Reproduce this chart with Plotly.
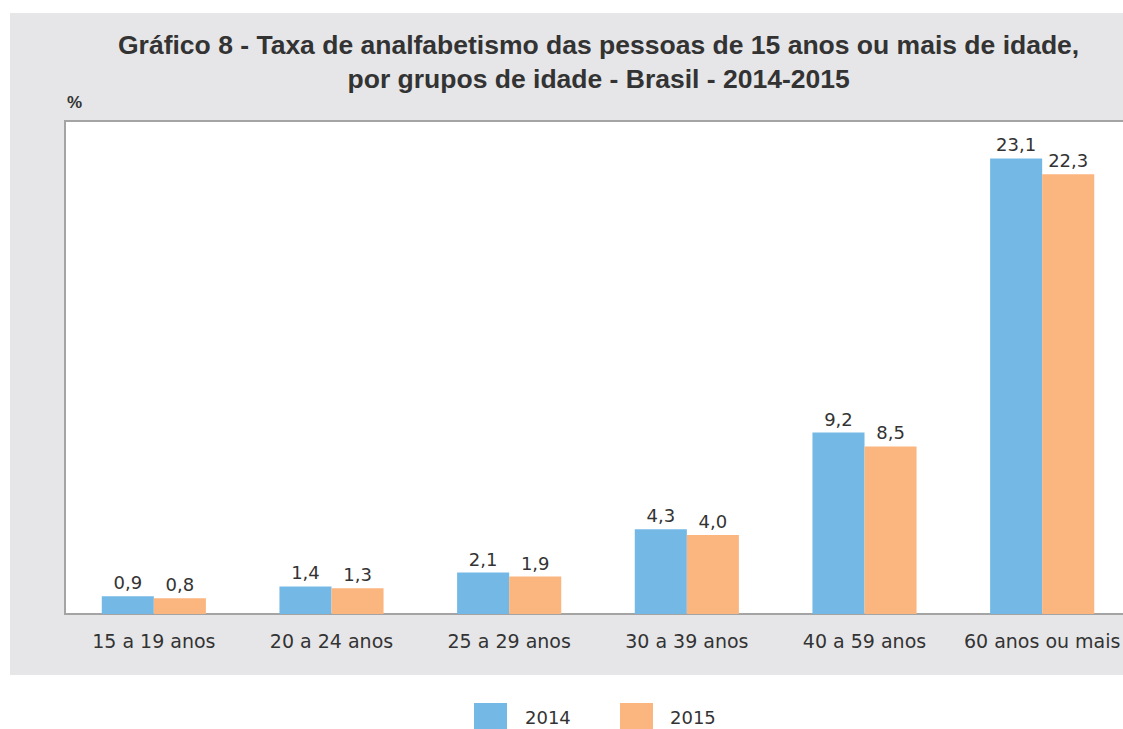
import plotly.graph_objects as go

categories = ["15 a 19 anos", "20 a 24 anos", "25 a 29 anos", "30 a 39 anos", "40 a 59 anos", "60 anos ou mais"]
values_2014 = [0.9, 1.4, 2.1, 4.3, 9.2, 23.1]
values_2015 = [0.8, 1.3, 1.9, 4.0, 8.5, 22.3]
series_names = ["2014", "2015"]
colors = ["#74b9e6", "#fbb57f"]

W, H = 1123, 729
L, R_PX, T, B = 65, 1123, 121, 614
plot_w = R_PX - L
plot_h = B - T

def px_x(p):
    return (p - L) / plot_w

def px_y(p):
    return (B - p) / plot_h

txt = "#333333"
title_font = "Liberation Sans, Arial, sans-serif"
font = "DejaVu Sans, sans-serif"

fig = go.Figure()
for name, vals, col in zip(series_names, [values_2014, values_2015], colors):
    fig.add_trace(go.Bar(
        x=categories, y=vals, name=name,
        marker=dict(color=col, line=dict(width=0)),
        texttemplate="%{y:.1f}", textposition="outside",
        textfont=dict(size=18, color=txt, family=font),
        cliponaxis=False,
    ))

fig.update_layout(
    width=W, height=H,
    margin=dict(l=L, r=0, t=T, b=H - B),
    paper_bgcolor="white", plot_bgcolor="white",
    separators=",.",
    barmode="group", bargap=0.414, bargroupgap=0,
    font=dict(family=font, color=txt, size=18),
    showlegend=True,
    legend=dict(orientation="h", xref="container", yref="container",
                x=475 / W, xanchor="left", y=(H - 717) / H, yanchor="middle",
                font=dict(size=18, color=txt, family=font), itemwidth=40,
                bgcolor="rgba(0,0,0,0)", traceorder="normal",
                entrywidth=90, entrywidthmode="pixels"),
    xaxis=dict(range=[-0.5, 5.5 - 8 / 177.5], showgrid=False, showline=False, ticks="",
               tickfont=dict(size=19, color=txt, family=font), ticklabelstandoff=14),
    yaxis=dict(range=[0, 25], visible=False, showgrid=False),
    shapes=[
        dict(type="rect", xref="paper", yref="paper", layer="below",
             x0=px_x(10), x1=px_x(1130), y0=px_y(675), y1=px_y(13),
             fillcolor="#e6e6e8", line=dict(width=0)),
        dict(type="rect", xref="paper", yref="paper", layer="below",
             x0=0, x1=px_x(1130), y0=0, y1=1,
             fillcolor="white", line=dict(color="#a4a4a4", width=2)),
        dict(type="rect", xref="paper", yref="paper", layer="above",
             x0=px_x(474), x1=px_x(507), y0=px_y(732), y1=px_y(703),
             fillcolor=colors[0], line=dict(width=0)),
        dict(type="rect", xref="paper", yref="paper", layer="above",
             x0=px_x(620), x1=px_x(653), y0=px_y(732), y1=px_y(703),
             fillcolor=colors[1], line=dict(width=0)),
    ],
    annotations=[
        dict(text="<b>Gráfico 8 - Taxa de analfabetismo das pessoas de 15 anos ou mais de idade,<br>por grupos de idade - Brasil - 2014-2015</b>",
             xref="paper", yref="paper", x=px_x(598), y=px_y(62), xanchor="center", yanchor="middle",
             showarrow=False, font=dict(size=26.5, color=txt, family=title_font), align="center"),
        dict(text="<b>%</b>", xref="paper", yref="paper", x=px_x(65), y=px_y(102), xanchor="left", yanchor="middle",
             showarrow=False, font=dict(size=17, color=txt, family=title_font)),
    ],
)

fig.write_html("out.html", config={"displayModeBar": False},
               post_script="document.body.style.margin='0';")
